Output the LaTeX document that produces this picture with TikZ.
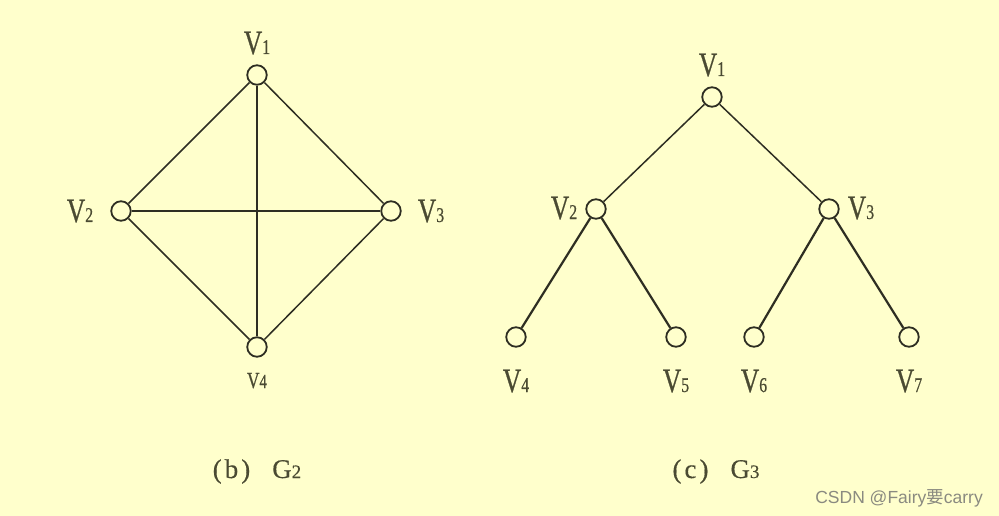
\documentclass[tikz,border=0pt]{standalone}
\usepackage{fontspec}
\setmainfont{Liberation Serif}
\newfontfamily\labf[FakeStretch=0.75,FakeBold=0.6]{Liberation Serif}
\newfontfamily\capf[FakeBold=0.4]{Liberation Serif}
\newfontfamily\wmf{Liberation Sans}
\newfontfamily\cjkf{Noto Sans CJK SC}
\definecolor{bg}{HTML}{FFFFCC}
\definecolor{ink}{HTML}{2E2E22}
\definecolor{txt}{HTML}{4A4A32}
\definecolor{wm}{HTML}{8A8A80}
\newcommand{\VL}[1]{{\fontsize{34}{34}\selectfont V}{\fontsize{21}{21}\selectfont #1}}
\newcommand{\VS}[1]{{\fontsize{23}{23}\selectfont V}{\fontsize{20}{20}\selectfont #1}}
\begin{document}
\begin{tikzpicture}[x=1pt,y=-1pt,
  vert/.style={circle,draw=ink,line width=1.8pt,minimum size=19.5pt,inner sep=0pt,fill=bg},
  vlab/.style={text=txt,font=\labf,inner sep=0pt,anchor=base},
  edge/.style={draw=ink,line width=1.5pt},
  tedge/.style={draw=ink,line width=2.2pt},
  captxt/.style={text=txt,font=\capf\fontsize{27}{27}\selectfont,inner sep=0pt,anchor=base}]
\fill[bg] (0,0) rectangle (999,516);
\useasboundingbox (0,0) rectangle (999,516);
% G2
\node[vert] (a1) at (257,75) {};
\node[vert] (a2) at (121,211) {};
\node[vert] (a3) at (391,211) {};
\node[vert] (a4) at (257,347) {};
\draw[edge] (a1) -- (a2);
\draw[edge] (a1) -- (a3);
\draw[edge] (a2) -- (a4);
\draw[edge] (a3) -- (a4);
\draw[edge,line width=2pt] (a1) -- (a4);
\draw[edge,line width=2pt] (a2) -- (a3);
\node[vlab] (l1) at (257,54) {\VL{1}};
\node[vlab] (l2) at (80,222) {\VL{2}};
\node[vlab] (l3) at (431,222) {\VL{3}};
\node[vlab] (l4) at (257,388) {\VS{4}};
\node[captxt] (cb) at (257,478) {(\kern3pt b\kern3pt)\hspace{22pt}G{\fontsize{19}{19}\selectfont 2}};
% G3
\node[vert] (b1) at (712,97) {};
\node[vert] (b2) at (596,209) {};
\node[vert] (b3) at (829,209) {};
\node[vert] (b4) at (516,337) {};
\node[vert] (b5) at (676,337) {};
\node[vert] (b6) at (754,337) {};
\node[vert] (b7) at (909,337) {};
\draw[edge] (b1) -- (b2);
\draw[edge] (b1) -- (b3);
\draw[tedge] (b2) -- (b4);
\draw[tedge] (b2) -- (b5);
\draw[tedge] (b3) -- (b6);
\draw[tedge] (b3) -- (b7);
\node[vlab] (m1) at (712,76) {\VL{1}};
\node[vlab] (m2) at (564,219) {\VL{2}};
\node[vlab] (m3) at (861,219) {\VL{3}};
\node[vlab] (m4) at (516,392) {\VL{4}};
\node[vlab] (m5) at (676,392) {\VL{5}};
\node[vlab] (m6) at (754,392) {\VL{6}};
\node[vlab] (m7) at (909,392) {\VL{7}};
\node[captxt] (cc) at (716,478) {(\kern3pt c\kern3pt)\hspace{22pt}G{\fontsize{19}{19}\selectfont 3}};
% watermark
\node[text=wm,inner sep=0pt,anchor=base east] (wmk) at (983,503) {\fontsize{17.5}{17.5}\selectfont\wmf CSDN @Fairy\cjkf 要\wmf carry};
\end{tikzpicture}
\end{document}
